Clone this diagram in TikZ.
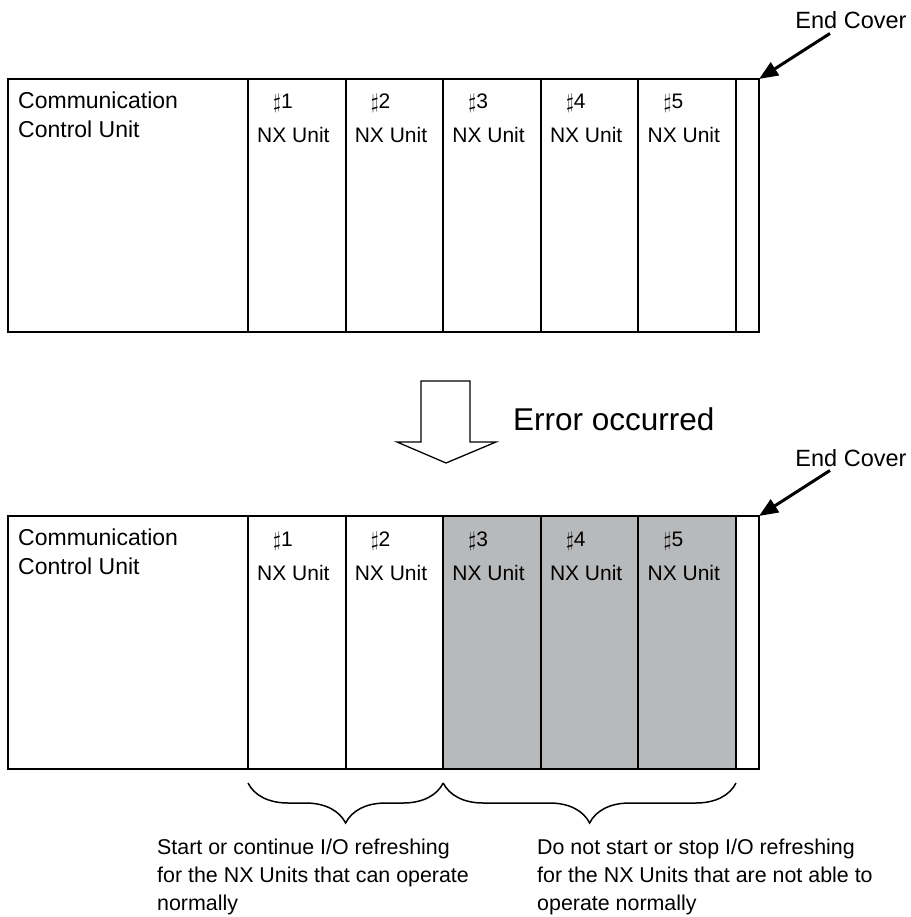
\documentclass[tikz,border=0pt]{standalone}
\usepackage{fontspec}
\setmainfont{Liberation Sans}
\usetikzlibrary{positioning, calc, arrows.meta, decorations.pathreplacing}
\definecolor{faultgray}{RGB}{184,185,187}

\begin{document}
\begin{tikzpicture}[x=1pt, y=-1pt,
	cell/.style={draw, line width=2pt, rectangle, anchor=north west,
		minimum height=253pt, inner sep=0pt, outer sep=0pt},
	lbl/.style={inner sep=0pt, anchor=base west, font=\fontsize{21}{25}\selectfont},
	cctext/.style={inner sep=0pt, anchor=north west, align=left,
		font=\fontsize{23}{29}\selectfont},
	note/.style={inner sep=0pt, anchor=north west, align=left,
		font=\fontsize{21.4}{28}\selectfont},
	cover/.style={inner sep=0pt, anchor=base, font=\fontsize{23.5}{28}\selectfont},
	pointer/.style={line width=3pt, -{Triangle[length=19pt, width=15pt]}},
	curly/.style={decorate, decoration={brace, mirror, amplitude=40pt}, line width=1.5pt}]
	\useasboundingbox (0,0) rectangle (910,917);
	
	% rack before the error
	\node[cell, minimum width=240pt] (ccuA) at (8,79) {};
	\node[cctext] (ccuA-t) at (18,92) {Communication\\Control Unit};
	\foreach \i in {1,...,5}{
		\node[cell, minimum width=97.6pt] (uA\i) at ({248+(\i-1)*97.6},79) {};
		\node[lbl] (uA\i-n) at ($(uA\i.north west)+(25,30)$) {$\sharp$\i};
		\node[lbl] (uA\i-t) at ($(uA\i.north west)+(9,64)$) {NX Unit};
	}
	\node[cell, minimum width=23pt] (endA) at (736,79) {};
	\node[cover] (ecA) at (851,29) {End Cover};
	\draw[pointer] ([xshift=-21pt, yshift=-4pt]ecA.south) -- (endA.north east);
	
	% hollow arrow
	\draw[line width=1.3pt] (421,381) -- (470,381) -- (470,442) -- (496,442)
		-- (446,463) -- (397,442) -- (421,442) -- cycle;
	\node[inner sep=0pt, anchor=base west, font=\fontsize{31.5}{36}\selectfont]
		(err) at (513,430) {Error occurred};
	
	% rack after the error
	\node[cell, minimum width=240pt] (ccuB) at (8,516) {};
	\node[cctext] (ccuB-t) at (18,529) {Communication\\Control Unit};
	\foreach \i/\shade in {1/white, 2/white, 3/faultgray, 4/faultgray, 5/faultgray}{
		\node[cell, fill=\shade, minimum width=97.6pt] (uB\i) at ({248+(\i-1)*97.6},516) {};
		\node[lbl] (uB\i-n) at ($(uB\i.north west)+(25,30)$) {$\sharp$\i};
		\node[lbl] (uB\i-t) at ($(uB\i.north west)+(9,64)$) {NX Unit};
	}
	\node[cell, minimum width=23pt] (endB) at (736,516) {};
	\node[cover] (ecB) at (851,466) {End Cover};
	\draw[pointer] ([xshift=-21pt, yshift=-4pt]ecB.south) -- (endB.north east);
	
	% braces and notes
	\draw[curly] ([yshift=-14pt]uB1.south west) -- ([yshift=-14pt]uB2.south east);
	\draw[curly] ([yshift=-14pt]uB3.south west) -- ([yshift=-14pt]uB5.south east);
	\node[note] (okNote) at (157,839)
		{Start or continue I/O refreshing\\for the NX Units that can operate\\normally};
	\node[note] (stopNote) at (537,839)
		{Do not start or stop I/O refreshing\\for the NX Units that are not able to\\operate normally};
\end{tikzpicture}
\end{document}
